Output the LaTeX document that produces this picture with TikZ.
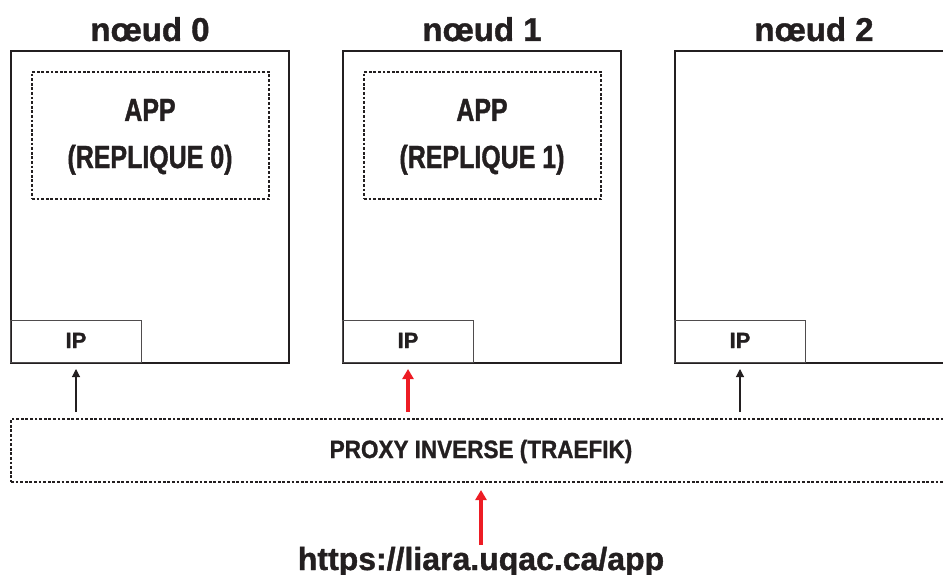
\documentclass[tikz,border=0pt]{standalone}
\usepackage{fontspec}
\setmainfont{Liberation Sans}[BoldFeatures={FakeBold=1.2}]
\newfontfamily\condfont{Liberation Sans}[FakeStretch=0.78, BoldFeatures={FakeBold=1.2}]
\newfontfamily\midfont{Liberation Sans}[FakeStretch=0.9, BoldFeatures={FakeBold=1.2}]
\usetikzlibrary{arrows.meta}
\definecolor{ink}{HTML}{231F20}
\definecolor{arrowred}{HTML}{ED1C24}
\tikzset{
  nodebox/.style={draw=ink, line width=2pt, anchor=north west, inner sep=0pt},
  appbox/.style={draw=ink, line width=2pt, dash pattern=on 2.8pt off 1.8pt, anchor=north west, inner sep=0pt},
  ipbox/.style={draw=ink!80, line width=1pt, anchor=north west, inner sep=0pt, minimum width=131pt, minimum height=42pt},
  title/.style={anchor=base, text=ink, font=\fontsize{33}{36}\selectfont\bfseries, inner sep=0pt},
  apptext/.style={anchor=base, text=ink, font=\condfont\fontsize{32}{36}\selectfont\bfseries, inner sep=0pt},
  iptext/.style={anchor=base, text=ink, font=\fontsize{22}{24}\selectfont\bfseries, inner sep=0pt},
  thinarrow/.style={draw=ink, line width=1.1pt, -{Triangle[width=8pt,length=8pt]}},
  redarrow/.style={draw=arrowred, line width=3.2pt, -{Triangle[width=11pt,length=10pt]}},
}
\begin{document}
\begin{tikzpicture}[x=1pt,y=-1pt]
\useasboundingbox (0,0) rectangle (943,575);
% node boxes
\node[nodebox, minimum width=278pt, minimum height=312pt] (box0) at (10,50) {};
\node[nodebox, minimum width=278pt, minimum height=312pt] (box1) at (342,50) {};
\node[nodebox, minimum width=290pt, minimum height=312pt] (box2) at (674,50) {};
% titles
\node[title] (t0) at (150,41) {nœud 0};
\node[title] (t1) at (482,41) {nœud 1};
\node[title] (t2) at (814,41) {nœud 2};
% app boxes
\node[appbox, minimum width=237pt, minimum height=127pt] (app0) at (31,71) {};
\node[appbox, minimum width=237pt, minimum height=127pt] (app1) at (363,71) {};
\node[apptext] (a0l1) at (150,121) {APP};
\node[apptext] (a0l2) at (150,168) {(REPLIQUE 0)};
\node[apptext] (a1l1) at (482,121) {APP};
\node[apptext] (a1l2) at (482,168) {(REPLIQUE 1)};
% IP boxes
\node[ipbox] (ip0) at (10,320) {};
\node[ipbox] (ip1) at (342,320) {};
\node[ipbox] (ip2) at (674,320) {};
\node[iptext] (ip0t) at (76,348) {IP};
\node[iptext] (ip1t) at (408,348) {IP};
\node[iptext] (ip2t) at (740,348) {IP};
% proxy
\node[appbox, minimum width=950pt, minimum height=63pt] (proxy) at (10,418) {};
\node[anchor=base, text=ink, font=\midfont\fontsize{25}{28}\selectfont\bfseries, inner sep=0pt] (proxyt) at (481,458) {PROXY INVERSE (TRAEFIK)};
% arrows
\draw[thinarrow, shorten <=6pt, shorten >=6pt] (proxy.north -| ip0.center) -- (ip0.south);
\draw[redarrow, shorten <=6pt, shorten >=6pt] (proxy.north -| ip1.center) -- (ip1.south);
\draw[thinarrow, shorten <=6pt, shorten >=6pt] (proxy.north -| ip2.center) -- (ip2.south);
% url
\node[anchor=base, text=ink, font=\fontsize{32}{34}\selectfont\bfseries, inner sep=0pt] (url) at (481,570) {https://liara.uqac.ca/app};
\coordinate (urltop) at (481,545);
\draw[redarrow, shorten >=7pt] (urltop) -- (proxy.south -| urltop);
\end{tikzpicture}
\end{document}
